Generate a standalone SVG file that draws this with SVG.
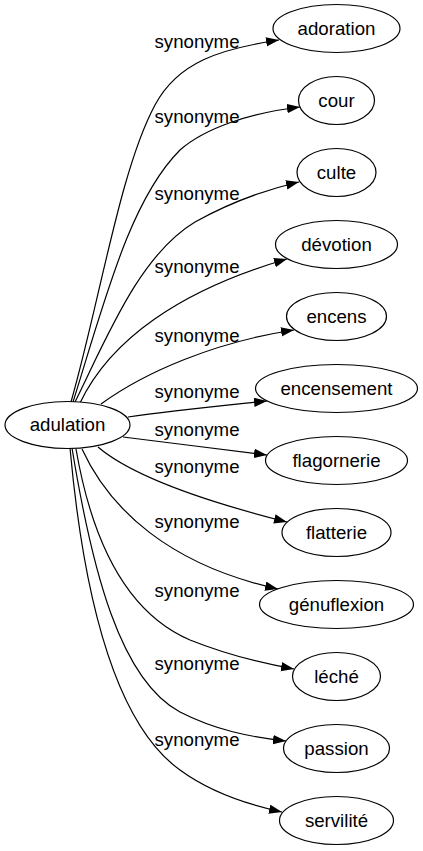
<svg xmlns="http://www.w3.org/2000/svg" width="423" height="851" viewBox="0 0 423 851">
<style>
.node ellipse{fill:#fff;stroke:#000;stroke-width:1.2}
text{font-family:"Liberation Sans",Arial,sans-serif;font-size:18.67px;fill:#000;text-anchor:middle}
.edge path{fill:none;stroke:#000;stroke-width:1.2;marker-end:url(#arrow)}
</style>
<defs>
<marker id="arrow" markerUnits="userSpaceOnUse" markerWidth="14" markerHeight="10" refX="13" refY="4.7" orient="auto">
<path d="M0,0 L13,4.7 L0,9.4 z" fill="#000"/>
</marker>
</defs>
<rect width="423" height="851" fill="#fff"/>
<g id="edges" class="edge">
<path d="M71,402 C100,300 120,170 155,105 C178,62 220,49 279,40"/>
<path d="M73,402 C105,300 130,200 180,150 C205,128 250,113 300,107"/>
<path d="M75,402 C108,335 140,255 195,222 C222,207 260,191 299,182"/>
<path d="M80,403 C110,340 180,290 287,259"/>
<path d="M101,404 C145,372 215,342 294,330"/>
<path d="M128,417 C170,411 220,406 267,401"/>
<path d="M123,437 C170,443 220,449 267,455"/>
<path d="M98,447 C125,470 180,495 287,522"/>
<path d="M82,449 C110,510 170,565 278,589"/>
<path d="M76,449 C90,530 120,610 190,640 C220,652 255,662 294,669"/>
<path d="M72,448 C92,570 120,680 180,712 C215,730 250,737 286,741"/>
<path d="M70,448 C82,580 110,720 180,770 C210,792 245,804 282,812"/>
</g>
<g id="edge-labels">
<text x="197" y="48">synonyme</text>
<text x="197" y="123">synonyme</text>
<text x="197" y="200">synonyme</text>
<text x="197" y="273">synonyme</text>
<text x="197" y="342">synonyme</text>
<text x="197" y="398">synonyme</text>
<text x="197" y="436">synonyme</text>
<text x="197" y="473">synonyme</text>
<text x="197" y="528">synonyme</text>
<text x="197" y="597">synonyme</text>
<text x="197" y="670">synonyme</text>
<text x="197" y="746">synonyme</text>
</g>
<g id="adulation" class="node"><ellipse cx="67.5" cy="425" rx="62.5" ry="23.5"/><text x="67.5" y="431">adulation</text></g>
<g id="adoration" class="node"><ellipse cx="336.5" cy="28.5" rx="63.5" ry="24"/><text x="336.5" y="34.5">adoration</text></g>
<g id="cour" class="node"><ellipse cx="336.5" cy="100.5" rx="38" ry="24"/><text x="336.5" y="106.5">cour</text></g>
<g id="culte" class="node"><ellipse cx="336.5" cy="172.5" rx="39.5" ry="24"/><text x="336.5" y="178.5">culte</text></g>
<g id="devotion" class="node"><ellipse cx="336.5" cy="244.5" rx="61" ry="24"/><text x="336.5" y="250.5">dévotion</text></g>
<g id="encens" class="node"><ellipse cx="336.5" cy="316.5" rx="50" ry="24"/><text x="336.5" y="322.5">encens</text></g>
<g id="encensement" class="node"><ellipse cx="336.5" cy="388.5" rx="81" ry="24"/><text x="336.5" y="394.5">encensement</text></g>
<g id="flagornerie" class="node"><ellipse cx="336.5" cy="460.5" rx="71" ry="24"/><text x="336.5" y="466.5">flagornerie</text></g>
<g id="flatterie" class="node"><ellipse cx="336.5" cy="532.5" rx="54.5" ry="24"/><text x="336.5" y="538.5">flatterie</text></g>
<g id="genuflexion" class="node"><ellipse cx="336.5" cy="604.5" rx="77" ry="24"/><text x="336.5" y="610.5">génuflexion</text></g>
<g id="leche" class="node"><ellipse cx="336.5" cy="676.5" rx="44" ry="24"/><text x="336.5" y="682.5">léché</text></g>
<g id="passion" class="node"><ellipse cx="336.5" cy="748.5" rx="53" ry="24"/><text x="336.5" y="754.5">passion</text></g>
<g id="servilite" class="node"><ellipse cx="336.5" cy="820.5" rx="57" ry="24"/><text x="336.5" y="826.5">servilité</text></g>
</svg>
